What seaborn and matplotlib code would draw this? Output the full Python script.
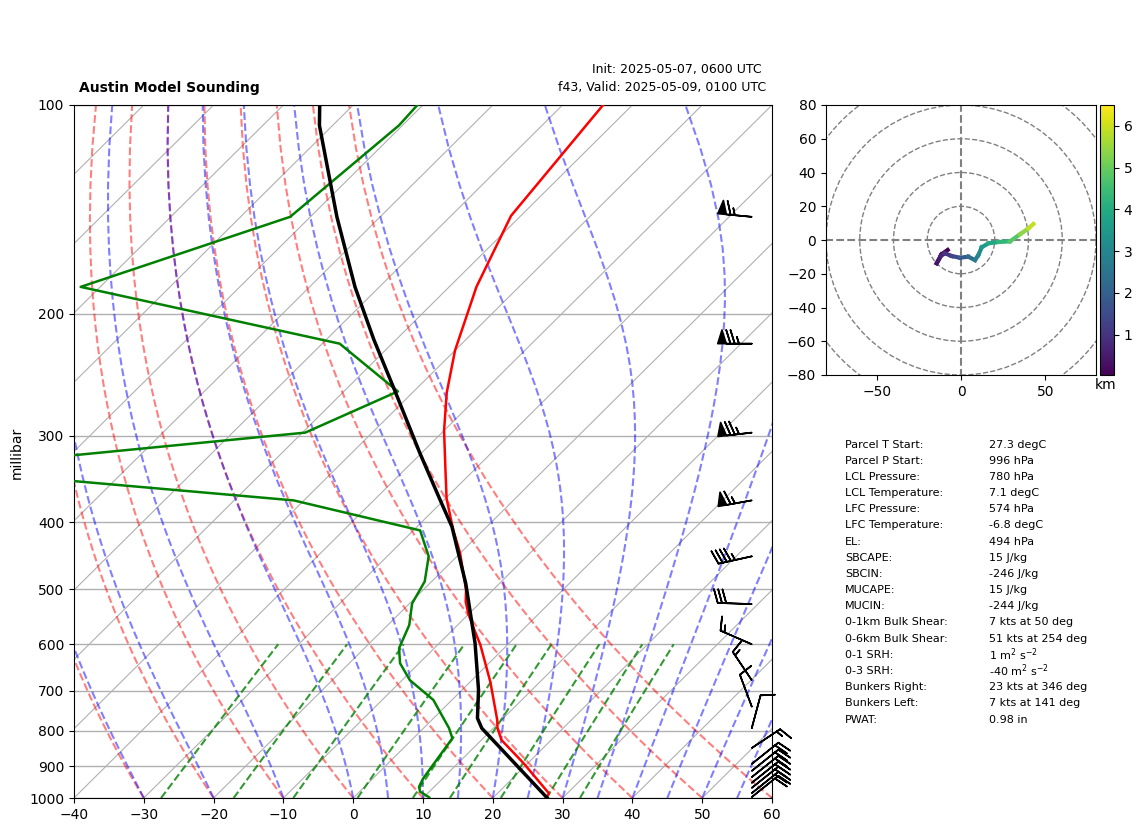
import numpy as np
import matplotlib
matplotlib.use("Agg")
import matplotlib.pyplot as plt
from matplotlib.collections import LineCollection
from matplotlib.colors import Normalize
from matplotlib.cm import ScalarMappable
from matplotlib.patches import Circle
import seaborn as sns

# ---- sounding data ----
temp_p = [1000, 985, 974, 891, 825, 793, 772, 680, 601, 572, 544, 521, 501, 443, 410, 370, 336, 295, 260, 226, 183, 144.5, 100]
temp_c = [27.6, 27.4, 26.5, 19.4, 12.9, 10.6, 9.4, 2.9, -3.9, -6.9, -9.9, -12.2, -13.85, -20.05, -24.4, -29.8, -34.15, -40.0, -45.1, -50.0, -56.1, -61.4, -64.2]

dewp_p = [998, 979, 963, 937, 820, 793, 759, 722, 676, 639, 608, 563, 524, 487, 448, 411, 372, 335, 297, 259, 221, 183, 145, 107, 100]
dewp_c = [10.8, 8.66, 7.8, 7.2, 5.59, 3.66, 0.7, -2.66, -8.89, -12.74, -15.04, -16.92, -19.63, -21.0, -24.06, -29.03, -51.48, -107.5, -59.6, -52.27, -67.5, -112.8, -92.9, -90.5, -90.8]

parcel_p = [1000, 793, 767, 698, 598, 490, 406, 370, 318, 258, 218, 183, 145, 107, 100]
parcel_c = [27.8, 8.35, 6.28, 2.34, -4.87, -14.86, -25.0, -30.8, -40.2, -52.9, -63.2, -73.5, -86.2, -101.9, -104.8]

barb_p = [145, 221, 297, 372, 448, 525, 600, 676, 738, 793, 847, 893, 914, 933, 951, 967, 984, 997]
barb_u = [64.7, 75, 74.5, 64, 44, 30, 13.8, 8.4, 3.5, -2.6, -12.5, -15.6, -15.6, -15.6, -15.6, -15.6, -15.6, -15.6]
barb_v = [-6.1, 0, 8.6, 11.5, 9.7, -1, -6, -12.5, -9.4, -9.7, -8.3, -12.5, -12.5, -12.5, -12.5, -12.5, -12.5, -12.5]

hodo_u = [-7.9, -11.5, -14.4, -12, -9.5, -5.5, -0.6, 4.3, 8.3, 10.3, 12.3, 16.2, 22.1, 29, 35, 40, 42.9]
hodo_v = [-5.9, -8.5, -13.8, -9.5, -7.9, -9.5, -10.5, -9.9, -11.9, -8.9, -4.3, -2, -1.2, -0.8, 3.4, 6.9, 9.5]
hodo_h = [0.05, 0.2, 0.4, 0.7, 1.0, 1.4, 1.9, 2.3, 2.8, 3.1, 3.5, 3.9, 4.3, 4.8, 5.4, 5.9, 6.4]

stat_labels = ["Parcel T Start:", "Parcel P Start:", "LCL Pressure:", "LCL Temperature:", "LFC Pressure:",
               "LFC Temperature:", "EL:", "SBCAPE:", "SBCIN:", "MUCAPE:", "MUCIN:", "0-1km Bulk Shear:",
               "0-6km Bulk Shear:", "0-1 SRH:", "0-3 SRH:", "Bunkers Right:", "Bunkers Left:", "PWAT:"]
stat_values = ["27.3 degC", "996 hPa", "780 hPa", "7.1 degC", "574 hPa", "-6.8 degC", "494 hPa", "15 J/kg",
               "-246 J/kg", "15 J/kg", "-244 J/kg", "7 kts at 50 deg", "51 kts at 254 deg",
               r"1 m$^2$ s$^{-2}$", r"-40 m$^2$ s$^{-2}$", "23 kts at 346 deg", "7 kts at 141 deg", "0.98 in"]

p_ticks = [1000, 900, 800, 700, 600, 500, 400, 300, 200, 100]
t_ticks = list(range(-40, 61, 10))
isotherm_t = list(range(-130, 61, 10))
dry_t0 = list(range(-40, 61, 10))
moist_t0 = list(range(-40, 1, 10)) + list(range(5, 61, 5))
mixing_w = [0.0004, 0.001, 0.002, 0.004, 0.007, 0.01, 0.016, 0.024, 0.032]
hodo_rings = [20, 40, 60, 80, 100]

W, H = 1142, 832
SKEW = 100.0  # degC of x-shift per decade of pressure


def skew(t, p):
    return np.asarray(t, float) + SKEW * np.log10(1000.0 / np.asarray(p, float))


def fig_ax(left, top, right, bottom):
    return [left / W, 1 - bottom / H, (right - left) / W, (bottom - top) / H]


def moist_profile(t0, p_grid):
    Rd, cp, Lv, eps = 287.05, 1004.0, 2.501e6, 0.622

    def rate(tk, p):
        es = 6.112 * np.exp(17.67 * (tk - 273.15) / (tk - 29.65))
        rs = eps * es / (p - es) if p > es else 0.0
        return (Rd * tk + Lv * rs) / (cp + Lv ** 2 * rs * eps / (Rd * tk ** 2)) / p

    out = [t0 + 273.15]
    for a, b in zip(p_grid[:-1], p_grid[1:]):
        h = b - a
        t = out[-1]
        k1 = rate(t, a)
        k2 = rate(t + h * k1 / 2, a + h / 2)
        k3 = rate(t + h * k2 / 2, a + h / 2)
        k4 = rate(t + h * k3, b)
        out.append(t + h * (k1 + 2 * k2 + 2 * k3 + k4) / 6)
    return np.array(out) - 273.15


fig = plt.figure(figsize=(W / 100, H / 100), dpi=100)
ax = fig.add_axes(fig_ax(74, 105, 772, 798))
ax.set_yscale("log")

grid_col = "#b0b0b0"
p_end = np.array([1000.0, 100.0])
for t in isotherm_t:
    ax.plot(skew([t, t], p_end), p_end, color=grid_col, lw=0.8, zorder=1)
for p in p_ticks:
    ax.axhline(p, color=grid_col, lw=1.0, zorder=1)

p_line = np.linspace(1000, 100, 60)
for t0 in dry_t0:
    t = (t0 + 273.15) * (p_line / 1000.0) ** 0.28571 - 273.15
    ax.plot(skew(t, p_line), p_line, color="r", ls="--", lw=1.5, alpha=0.5, zorder=2)
for t0 in moist_t0:
    ax.plot(skew(moist_profile(t0, p_line), p_line), p_line, color="b", ls="--", lw=1.5, alpha=0.5, zorder=2)
p_mix = np.linspace(1000, 600, 12)
for w in mixing_w:
    e = w * p_mix / (0.622 + w)
    lg = np.log(e / 6.112)
    td = 243.5 * lg / (17.67 - lg)
    ax.plot(skew(td, p_mix), p_mix, color="g", ls="--", lw=1.5, alpha=0.8, zorder=2)

sns.lineplot(x=skew(temp_c, temp_p), y=temp_p, sort=False, estimator=None, color="red", lw=1.8, ax=ax, zorder=3)
sns.lineplot(x=skew(dewp_c, dewp_p), y=dewp_p, sort=False, estimator=None, color="green", lw=1.8, ax=ax, zorder=3)
sns.lineplot(x=skew(parcel_c, parcel_p), y=parcel_p, sort=False, estimator=None, color="black", lw=2.5, ax=ax, zorder=4)

ax.barbs(np.full(len(barb_p), 0.971), barb_p, barb_u, barb_v, length=7, linewidth=1.2,
         transform=ax.get_yaxis_transform(which="grid"), clip_on=False, zorder=5)

ax.set_xlim(-40, 60)
ax.set_ylim(1000, 100)
ax.set_yticks(p_ticks)
ax.set_yticklabels([str(p) for p in p_ticks])
ax.set_yticks([], minor=True)
ax.set_xticks(t_ticks)
ax.set_xticklabels([str(t).replace("-", "\u2212") for t in t_ticks])
ax.set_xlabel("")
ax.set_ylabel("")


def ftext(x, y, s, **kw):
    kw.setdefault("va", "center")
    return fig.text(x / W, 1 - y / H, s, **kw)


ftext(17, 453, "millibar", rotation=90, ha="center", fontsize=10)
ftext(79, 88, "Austin Model Sounding", fontweight="bold", fontsize=10, ha="left")
ftext(762, 70, "Init: 2025-05-07, 0600 UTC", fontsize=9, ha="right")
ftext(766, 87.5, "f43, Valid: 2025-05-09, 0100 UTC", fontsize=9, ha="right")

# Hodograph
hax = fig.add_axes(fig_ax(826, 105, 1096, 375))
for r in hodo_rings:
    hax.add_patch(Circle((0, 0), r, fill=False, ls="--", lw=1, edgecolor="grey", zorder=1))
hax.plot([-120, 120], [0, 0], color="grey", ls="--", lw=1.5, zorder=1)
hax.plot([0, 0], [-120, 120], color="grey", ls="--", lw=1.5, zorder=1)

pts = np.column_stack([hodo_u, hodo_v])
segs = np.stack([pts[:-1], pts[1:]], axis=1)
norm = Normalize(0.03, 6.5)
lc = LineCollection(segs, cmap="viridis", norm=norm, linewidths=3, zorder=3, capstyle="projecting")
lc.set_array(np.array(hodo_h[:-1]))
hax.add_collection(lc)
hax.set_xlim(-80, 80)
hax.set_ylim(-80, 80)
hax.set_xticks([-50, 0, 50])
hax.set_yticks(list(range(-80, 81, 20)))

cax = fig.add_axes(fig_ax(1100, 105, 1114, 375))
cb = fig.colorbar(ScalarMappable(norm=norm, cmap="viridis"), cax=cax)
cb.set_ticks([1, 2, 3, 4, 5, 6])
ftext(1106, 384.5, "km", ha="center", fontsize=10)

# Stats
for i, (a, b) in enumerate(zip(stat_labels, stat_values)):
    y = 444.5 + i * 16.18
    ftext(845, y, a, fontsize=8, ha="left")
    ftext(989, y, b, fontsize=8, ha="left")

fig.savefig("out.png", dpi=100)
